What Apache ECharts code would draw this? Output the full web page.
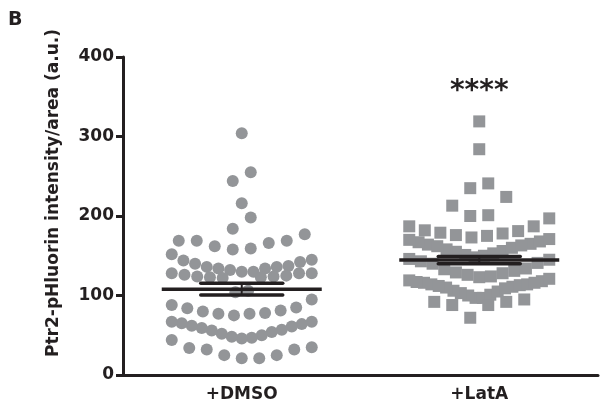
<!DOCTYPE html>
<html>
<head>
<meta charset="utf-8">
<script src="https://cdn.jsdelivr.net/npm/echarts@6/dist/echarts.min.js"></script>
<style>
  html, body { margin: 0; padding: 0; background: #fff; }
  #chart { width: 600px; height: 406px; }
</style>
</head>
<body>
<div id="chart"></div>
<script>
const categories = ['+DMSO', '+LatA'];

const dmsoValues = [
  304, 255, 244, 216, 198, 184,
  177, 169, 166, 159, 158, 162, 169, 169,
  152, 144, 140, 136, 134, 132, 130, 130, 134, 136, 137, 142, 145,
  128, 128, 125, 123, 123, 124, 122, 124, 126, 128, 104, 106,
  88, 84, 80, 77, 75, 77, 78, 81, 85, 95,
  67, 64, 61, 57, 54, 50, 47, 46, 48, 52, 56, 59, 62, 65, 67,
  44, 34, 32, 25, 21, 21, 25, 32, 35
];
const lataValues = [
  319, 284, 241, 235, 224, 213, 200, 197, 201, 187, 187,
  164, 165, 167, 168, 170, 171, 173, 175, 176, 178, 179, 181, 182,
  140, 141, 143, 145, 146, 148, 150, 151, 153, 155, 156, 158, 160, 162, 163,
  111, 113, 114, 116, 118, 119, 121, 123, 124, 126, 128, 129, 131, 133, 134,
  95, 97, 97, 100, 101, 103, 105, 106, 109, 110, 112, 114, 116, 117,
  92, 88, 72, 88, 92
];

const meanValues = [108, 144.5];
const semValues = [7.3, 4.5];
const sigLabels = ['', '****'];
const sigLevel = 356;

const FONT = 'DejaVu Sans';
const INK = '#231f20';
const DOT = '#939598';

// Prism-like row layout: sorted values are cut into rows, each row spread around the centre
const ROW_SPAN = 25;    // data units
const MAX_STEP = 18;    // px
const ROW_WIDTH = 140;  // px

function rowOffsets(values) {
  const order = values.map((v, i) => i).sort((a, b) => values[a] - values[b]);
  const offs = new Array(values.length).fill(0);
  let k = 0;
  while (k < order.length) {
    const start = values[order[k]];
    const row = [];
    while (k < order.length && values[order[k]] < start + ROW_SPAN) row.push(order[k++]);
    const n = row.length;
    const step = n > 1 ? Math.min(MAX_STEP, ROW_WIDTH / (n - 1)) : 0;
    const shift = n % 2 === 0 ? 0.5 : 0;
    row.forEach((idx, j) => {
      const slot = j === 0 ? 0 : (j % 2 ? (j + 1) / 2 : -j / 2);
      offs[idx] = (slot - shift) * step;
    });
  }
  return offs;
}

function dots(values, catIndex) {
  const offs = rowOffsets(values);
  return values.map((v, i) => ({ value: [catIndex, v], symbolOffset: [offs[i], 0] }));
}

const chart = echarts.init(document.getElementById('chart'));

const labelStyle = { fontFamily: FONT, fontWeight: 'bold', fontSize: 17, color: INK };

const option = {
  animation: false,
  grid: { left: 123, right: 2, top: 57, bottom: 31 },
  xAxis: {
    type: 'category',
    data: categories,
    axisLine: { lineStyle: { color: INK, width: 3 } },
    axisTick: { alignWithLabel: true, length: 6, lineStyle: { color: INK, width: 3 } },
    axisLabel: Object.assign({ margin: 11 }, labelStyle),
    splitLine: { show: false }
  },
  yAxis: {
    type: 'value',
    min: 0,
    max: 400,
    interval: 100,
    axisLine: { show: true, lineStyle: { color: INK, width: 3 } },
    axisTick: { show: true, length: 7, lineStyle: { color: INK, width: 3 } },
    axisLabel: Object.assign({ margin: 9 }, labelStyle),
    splitLine: { show: false }
  },
  graphic: [
    {
      type: 'text', left: 8, top: 11,
      style: { text: 'B', fontFamily: FONT, fontWeight: 'bold', fontSize: 19, fill: INK }
    },
    {
      type: 'text', x: 54, y: 193, rotation: Math.PI / 2,
      style: {
        text: 'Ptr2-pHluorin intensity/area (a.u.)',
        fontFamily: FONT, fontWeight: 'bold', fontSize: 17, fill: INK,
        align: 'center', verticalAlign: 'middle'
      }
    }
  ],
  series: [
    {
      name: categories[0],
      type: 'scatter',
      symbol: 'circle',
      symbolSize: 12,
      itemStyle: { color: DOT, opacity: 1 },
      data: dots(dmsoValues, 0)
    },
    {
      name: categories[1],
      type: 'scatter',
      symbol: 'rect',
      symbolSize: 12,
      itemStyle: { color: DOT, opacity: 1 },
      data: dots(lataValues, 1)
    },
    {
      // mean with SEM
      type: 'custom',
      z: 5,
      data: meanValues.map((m, i) => [i, m, semValues[i]]),
      renderItem: function (params, api) {
        const c = api.coord([api.value(0), api.value(1)]);
        const top = api.coord([api.value(0), api.value(1) + api.value(2)])[1];
        const bot = api.coord([api.value(0), api.value(1) - api.value(2)])[1];
        const st = { stroke: INK, lineWidth: 3.5 };
        return {
          type: 'group',
          children: [
            { type: 'line', shape: { x1: c[0] - 80, y1: c[1], x2: c[0] + 80, y2: c[1] }, style: st },
            { type: 'line', shape: { x1: c[0] - 41, y1: top, x2: c[0] + 41, y2: top }, style: Object.assign({ lineCap: 'round' }, st) },
            { type: 'line', shape: { x1: c[0] - 41, y1: bot, x2: c[0] + 41, y2: bot }, style: Object.assign({ lineCap: 'round' }, st) },
            { type: 'line', shape: { x1: c[0], y1: top, x2: c[0], y2: bot }, style: { stroke: INK, lineWidth: 2 } }
          ]
        };
      }
    },
    {
      // significance stars
      type: 'custom',
      z: 5,
      data: sigLabels.map((s, i) => [i, sigLevel]),
      renderItem: function (params, api) {
        const c = api.coord([api.value(0), api.value(1)]);
        return {
          type: 'text',
          x: c[0],
          y: c[1],
          style: {
            text: sigLabels[params.dataIndex],
            fontFamily: FONT, fontWeight: 'bold', fontSize: 28, fill: INK,
            align: 'center', verticalAlign: 'middle'
          }
        };
      }
    }
  ]
};

chart.setOption(option);
</script>
</body>
</html>
